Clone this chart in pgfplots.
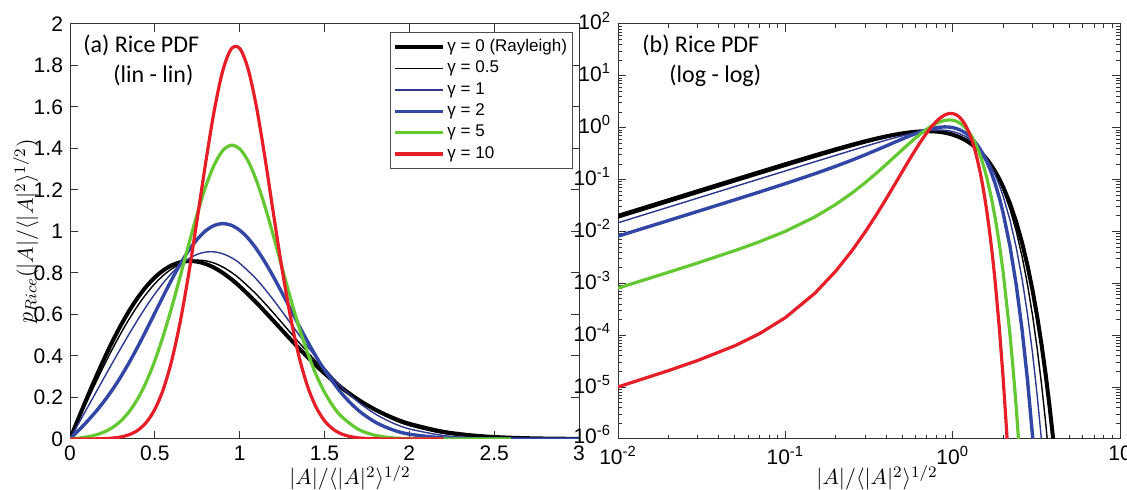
\documentclass[border=0pt]{standalone}
\usepackage{pgfplots}
\pgfplotsset{compat=1.18}
\usepackage{pgfplotstable}
\usepackage{fontspec}
\setmainfont{Liberation Sans}
\newfontfamily\calibri{Carlito}
\definecolor{cblue}{RGB}{50,70,165}
\definecolor{cbluethin}{RGB}{45,55,140}
\definecolor{cgreen}{RGB}{100,200,50}
\definecolor{cred}{RGB}{230,30,40}
\newcommand{\tp}[1]{10\textsuperscript{#1}}

\pgfplotstableread{
r p
0 0
0.01 0.019998
0.02 0.03998
0.03 0.05995
0.05 0.09975
0.07 0.13932
0.1 0.19801
0.15 0.29333
0.2 0.38432
0.25 0.46971
0.3 0.54836
0.35 0.61930
0.4 0.68171
0.45 0.73502
0.5 0.77880
0.55 0.81287
0.6 0.83722
0.65 0.85203
0.7 0.85768
0.75 0.85467
0.8 0.84366
0.85 0.82542
0.9 0.80075
0.95 0.77054
1.0 0.73576
1.1 0.65604
1.2 0.56863
1.3 0.47975
1.4 0.39441
1.5 0.31620
1.6 0.24738
1.7 0.18896
1.8 0.14099
1.9 0.10280
2.0 0.073263
2.2 0.034791
2.4 0.015125
2.6 0.0060278
2.8 0.0022046
3.0 0.00074046
3.2 2.2856e-4
3.4 6.4873e-5
3.6 1.6939e-5
3.8 4.0705e-6
4.0 9.0032e-7
4.2 1.8336e-7
}\tA

\pgfplotstableread{
r p
0 0
0.01 0.018195
0.02 0.036381
0.03 0.054551
0.05 0.090809
0.07 0.126903
0.1 0.180594
0.15 0.268353
0.2 0.353085
0.25 0.433833
0.3 0.509683
0.35 0.579775
0.4 0.643331
0.45 0.699665
0.5 0.748145
0.55 0.788396
0.6 0.819946
0.65 0.842774
0.7 0.856687
0.75 0.861972
0.8 0.858772
0.85 0.847661
0.9 0.829074
0.95 0.803787
1.0 0.772592
1.1 0.695979
1.2 0.606634
1.3 0.511930
1.4 0.418435
1.5 0.331361
1.6 0.254292
1.7 0.189118
1.8 0.136310
1.9 0.095259
2.0 0.064580
2.2 0.027008
2.4 0.0099966
2.6 0.0032728
2.8 9.4792e-4
3.0 2.4297e-4
3.2 5.5133e-5
3.4 1.10764e-5
3.6 1.97097e-6
3.8 3.106e-7
}\tB

\pgfplotstableread{
r p
0 0
0.01 0.014715
0.02 0.029430
0.03 0.044145
0.05 0.073575
0.07 0.103004
0.1 0.147137
0.15 0.220618
0.2 0.293849
0.25 0.366520
0.3 0.438155
0.35 0.508098
0.4 0.575526
0.45 0.639480
0.5 0.698876
0.55 0.752606
0.6 0.799544
0.65 0.838651
0.7 0.869038
0.75 0.889965
0.8 0.901001
0.85 0.901960
0.9 0.892935
0.95 0.874332
1.0 0.846858
1.1 0.769121
1.2 0.669239
1.3 0.558110
1.4 0.446200
1.5 0.342097
1.6 0.251524
1.7 0.177395
1.8 0.120048
1.9 0.077940
2.0 0.048592
2.2 0.016679
2.4 0.0048610
2.6 0.00120356
2.8 2.53249e-4
3.0 4.53019e-5
3.2 6.8982e-6
3.4 8.9173e-7
3.6 9.816e-8
}\tC

\pgfplotstableread{
r p
0 0
0.01 0.0081226
0.02 0.016260
0.03 0.024426
0.05 0.040904
0.07 0.057670
0.1 0.083601
0.15 0.129748
0.2 0.180737
0.25 0.237575
0.3 0.300780
0.35 0.370302
0.4 0.445482
0.45 0.525040
0.5 0.607109
0.55 0.689349
0.6 0.768963
0.65 0.843093
0.7 0.908707
0.75 0.962714
0.8 1.003600
0.85 1.029106
0.9 1.038127
0.95 1.030338
1.0 1.006233
1.05 0.967031
1.1 0.914661
1.15 0.851433
1.2 0.780188
1.25 0.703684
1.3 0.624812
1.35 0.546159
1.4 0.469990
1.45 0.398225
1.5 0.332198
1.6 0.220682
1.7 0.137787
1.8 0.080900
1.9 0.044670
2.0 0.023199
2.2 0.0052083
2.4 9.1622e-4
2.6 1.26364e-4
2.8 1.36711e-5
3.0 1.16058e-6
3.2 7.733e-8
}\tD

\pgfplotstableread{
r p
0 0
0.01 8.1049e-4
0.02 1.63264e-3
0.03 2.47816e-3
0.05 4.28689e-3
0.07 6.33393e-3
0.1 1.007616e-2
0.15 0.019051
0.2 0.033223
0.25 0.055017
0.3 0.087247
0.35 0.132960
0.4 0.195123
0.45 0.276125
0.5 0.377279
0.55 0.498090
0.6 0.635793
0.65 0.785168
0.7 0.938429
0.75 1.085878
0.8 1.216867
0.85 1.320965
0.9 1.389341
0.95 1.415994
1.0 1.398686
1.05 1.339185
1.1 1.242971
1.15 1.118436
1.2 0.975799
1.25 0.825522
1.3 0.677197
1.35 0.538749
1.4 0.415658
1.45 0.311019
1.5 0.225707
1.55 0.158851
1.6 0.108430
1.7 0.046143
1.8 0.017380
1.9 0.0057979
2.0 1.71304e-3
2.2 1.03962e-4
2.3 2.13592e-5
2.4 3.88822e-6
2.5 6.2729e-7
2.6 8.968e-8
}\tE

\pgfplotstableread{
r p
0 0
0.01 1.00871e-5
0.02 2.07730e-5
0.03 3.26795e-5
0.05 6.28934e-5
0.07 1.07064e-4
0.1 2.18511e-4
0.15 6.43296e-4
0.2 1.72186e-3
0.25 4.25596e-3
0.3 9.78465e-3
0.35 0.021027
0.4 0.042368
0.45 0.080217
0.5 0.142912
0.55 0.239848
0.6 0.379490
0.65 0.566391
0.7 0.797890
0.75 1.061231
0.8 1.333092
0.85 1.581952
0.9 1.773754
0.95 1.879636
1.0 1.882683
1.05 1.782674
1.1 1.595874
1.15 1.350803
1.2 1.081211
1.25 0.818403
1.3 0.585861
1.35 0.396670
1.4 0.254022
1.45 0.153871
1.5 0.088167
1.55 0.047790
1.6 0.024505
1.65 0.011887
1.7 0.0054553
1.75 2.36853e-3
1.8 9.72949e-4
1.9 1.39044e-4
2.0 1.59252e-5
2.1 1.46191e-6
2.2 1.0758e-7
}\tF

\pgfplotsset{
  mystyle/.style={
    scale only axis,
    axis line style={black!80, line width=0.5pt},
    tick style={black!80, line width=0.5pt},
    major tick length=4pt, minor tick length=2pt,
    tick align=inside, xtick pos=both, ytick pos=both,
    tick label style={font=\fontsize{10.5}{12}\selectfont},
    /pgf/number format/assume math mode=true,
    label style={font=\fontsize{11}{13}\selectfont},
  },
  kA/.style={black, line width=2pt, line join=round},
  kB/.style={black, line width=0.7pt, line join=round},
  kC/.style={cbluethin, line width=0.7pt, line join=round},
  kD/.style={cblue, line width=1.7pt, line join=round},
  kE/.style={cgreen, line width=1.6pt, line join=round},
  kF/.style={cred, line width=1.6pt, line join=round},
}

\begin{document}
\begin{tikzpicture}
\useasboundingbox (0,0) rectangle (563.5pt,245pt);
\begin{axis}[mystyle,
  at={(35pt,25.5pt)}, anchor=south west,
  width=254.5pt, height=207.5pt,
  xmin=0, xmax=3, ymin=0, ymax=2,
  xtick={0,0.5,1,1.5,2,2.5,3},
  ytick={0,0.2,0.4,0.6,0.8,1,1.2,1.4,1.6,1.8,2},
  xlabel={$|A|/\langle|A|^2\rangle^{1/2}$},
  ylabel={$p_{Rice}\big(|A|/\langle|A|^2\rangle^{1/2}\big)$},
  xlabel style={at={(axis description cs:0.55,0)}, anchor=base, yshift=-23pt},
  ylabel style={at={(axis description cs:-0.0727,0.5)}, anchor=base},
  legend style={at={(0.988,0.981)}, anchor=north east, draw=black!70, line width=0.5pt,
    fill=white, font=\fontsize{8.5}{10}\selectfont, inner xsep=1.5pt, inner ysep=2pt,
    row sep=0pt, nodes={inner sep=1.2pt, text height=6.3pt, text depth=2pt}},
  legend cell align=left,
  legend image code/.code={\draw[#1] (1.5pt,0pt) -- (25.5pt,0pt);},
]
\addplot[kA, smooth] table {\tA};
\addlegendentry{γ = 0 (Rayleigh)}
\addplot[kB, smooth] table {\tB};
\addlegendentry{γ = 0.5}
\addplot[kC, smooth] table {\tC};
\addlegendentry{γ = 1}
\addplot[kD, smooth] table {\tD};
\addlegendentry{γ = 2}
\addplot[kE, smooth] table {\tE};
\addlegendentry{γ = 5}
\addplot[kF, smooth] table {\tF};
\addlegendentry{γ = 10}
\end{axis}

\begin{axis}[mystyle,
  at={(309pt,25.5pt)}, anchor=south west,
  width=251pt, height=207.5pt,
  xmode=log, ymode=log,
  xmin=0.01, xmax=10, ymin=1e-6, ymax=100,
  xtick={0.01,0.1,1,10},
  xticklabels={\tp{-2},\tp{-1},\tp{0},10},
  ytick={1e-6,1e-5,1e-4,1e-3,1e-2,1e-1,1,10,100},
  yticklabels={\raisebox{2pt}{\tp{-6}},\tp{-5},\tp{-4},\tp{-3},\tp{-2},\tp{-1},\tp{0},\tp{1},\tp{2}},
  yticklabel style={yshift=1.5pt},
  minor xtick={0.02,0.03,0.04,0.05,0.06,0.07,0.08,0.09,0.2,0.3,0.4,0.5,0.6,0.7,0.8,0.9,2,3,4,5,6,7,8,9},
  minor ytick={2e-6,3e-6,4e-6,5e-6,6e-6,7e-6,8e-6,9e-6,
    2e-5,3e-5,4e-5,5e-5,6e-5,7e-5,8e-5,9e-5,
    2e-4,3e-4,4e-4,5e-4,6e-4,7e-4,8e-4,9e-4,
    2e-3,3e-3,4e-3,5e-3,6e-3,7e-3,8e-3,9e-3,
    0.02,0.03,0.04,0.05,0.06,0.07,0.08,0.09,
    0.2,0.3,0.4,0.5,0.6,0.7,0.8,0.9,
    2,3,4,5,6,7,8,9,20,30,40,50,60,70,80,90},
  xlabel={$|A|/\langle|A|^2\rangle^{1/2}$},
  xlabel style={at={(axis description cs:0.516,0)}, anchor=base, yshift=-23pt},
]
\addplot[kA] table[skip coords between index={0}{1}] {\tA};
\addplot[kB] table[skip coords between index={0}{1}] {\tB};
\addplot[kC] table[skip coords between index={0}{1}] {\tC};
\addplot[kD] table[skip coords between index={0}{1}] {\tD};
\addplot[kE] table[skip coords between index={0}{1}] {\tE};
\addplot[kF] table[skip coords between index={0}{1}] {\tF};
\end{axis}

\node[anchor=base west, inner sep=0, font=\calibri\fontsize{12}{14}\selectfont] at (41.5pt,218.5pt) {(a) Rice PDF};
\node[anchor=base west, inner sep=0, font=\calibri\fontsize{12}{14}\selectfont] at (56.5pt,203.5pt) {(lin - lin)};
\node[anchor=base west, inner sep=0, font=\calibri\fontsize{12}{14}\selectfont] at (321pt,218.5pt) {(b) Rice PDF};
\node[anchor=base west, inner sep=0, font=\calibri\fontsize{12}{14}\selectfont] at (334.5pt,203.5pt) {(log - log)};
\end{tikzpicture}
\end{document}
